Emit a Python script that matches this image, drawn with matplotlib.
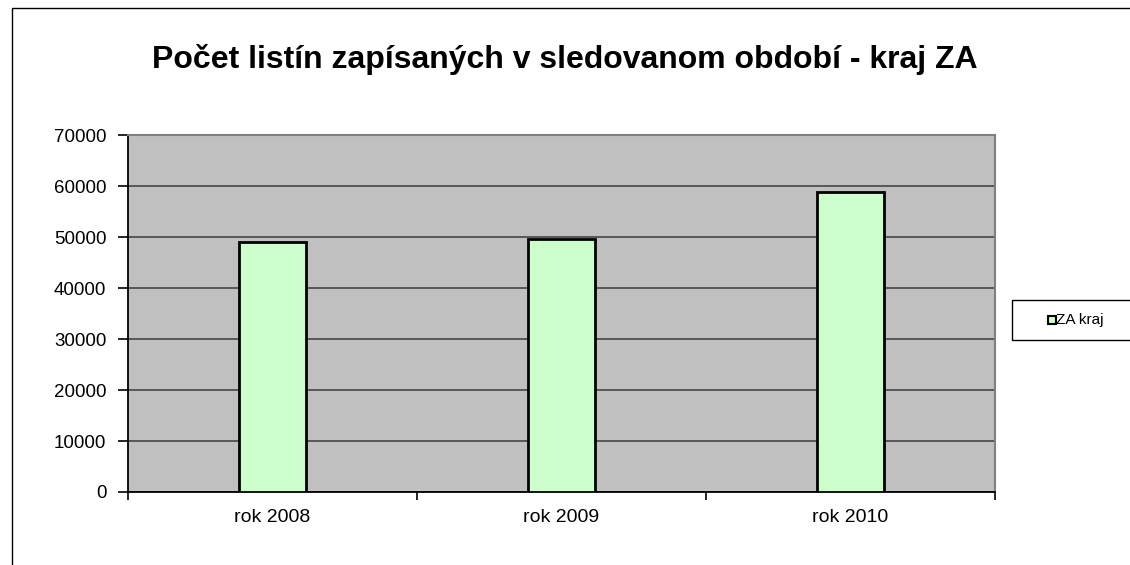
import matplotlib.pyplot as plt
from matplotlib.patches import Rectangle
from matplotlib.lines import Line2D

plt.rcParams['font.family'] = ['Liberation Sans', 'DejaVu Sans']

categories = ["rok 2008", "rok 2009", "rok 2010"]
values = [49000, 49700, 58800]
series_name = "ZA kraj"
title = "Počet listín zapísaných v sledovanom období - kraj ZA"

W, H = 1130, 565
fig = plt.figure(figsize=(W / 100, H / 100), dpi=100)

# outer chart frame (cut off at right/bottom like the original)
fig.patches.append(Rectangle((12 / W, -0.05), 1.2, 1 - 8 / H + 0.05,
                             transform=fig.transFigure, fill=False,
                             edgecolor='black', linewidth=1.0))

ax = fig.add_axes([128 / W, 1 - 492 / H, (995 - 128) / W, (492 - 135) / H])
ax.set_facecolor('#c0c0c0')

x = range(len(categories))
ax.bar(x, values, width=0.235, color='#ccffcc', edgecolor='black',
       linewidth=2, zorder=3)

ax.set_xlim(-0.5, 2.5)
ax.set_ylim(0, 70000)
ax.set_yticks(range(0, 70001, 10000))
ax.yaxis.grid(True, color='#505050', linewidth=1.3, zorder=1)
ax.set_axisbelow(True)

ax.set_xticks([-0.5, 0.5, 1.5, 2.5], minor=False)
ax.set_xticklabels([])
ax.set_xticks(list(x), minor=True)
ax.set_xticklabels(categories, minor=True)
ax.tick_params(axis='x', which='minor', length=0, pad=12, labelsize=14)
ax.tick_params(axis='x', which='major', length=6, width=1.2, direction='out')
ax.tick_params(axis='y', length=7, width=1.2, direction='out', labelsize=13.5, pad=8.5)

for s in ['left', 'bottom']:
    ax.spines[s].set_color('black')
    ax.spines[s].set_linewidth(1.3)
for s in ['top', 'right']:
    ax.spines[s].set_color('#808080')
    ax.spines[s].set_linewidth(1.5)

fig.text(565 / W, 1 - 60 / H, title, ha='center', va='center',
         fontsize=23, fontweight='bold')

# legend box, running off the right edge like the original
fig.patches.append(Rectangle((1012 / W, 1 - 340 / H), 0.2, 40 / H,
                             transform=fig.transFigure, facecolor='white',
                             edgecolor='black', linewidth=1.0))
fig.add_artist(Line2D([1052 / W], [1 - 320 / H], marker='s', markersize=5.5,
                      markerfacecolor='#ccffcc', markeredgecolor='black',
                      markeredgewidth=1.5, transform=fig.transFigure))
fig.text(1056 / W, 1 - 320 / H, series_name, ha='left', va='center', fontsize=11)

fig.savefig('out.png', dpi=100)
